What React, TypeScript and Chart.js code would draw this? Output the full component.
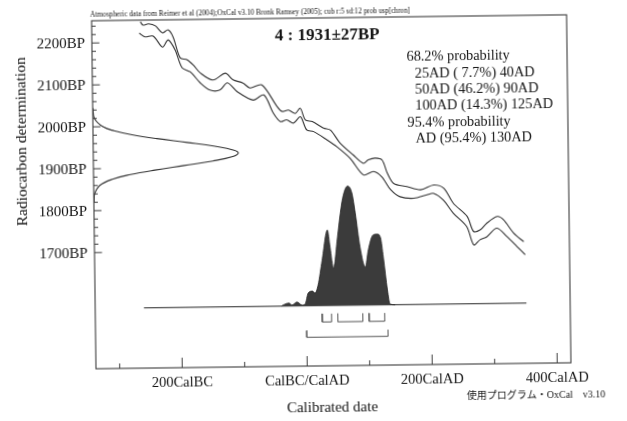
import React, { useEffect, useRef } from 'react';
import { Chart, registerables } from 'chart.js';

Chart.register(...registerables);

// ---------- texts ----------
const headerText =
  'Atmospheric data from Reimer et al (2004);OxCal v3.10 Bronk Ramsey (2005); cub r:5 sd:12 prob usp[chron]';
const titleText = '4 : 1931±27BP';
const probHeaderLines = ['68.2% probability', '95.4% probability'];
const prob68Lines = ['25AD ( 7.7%) 40AD', '50AD (46.2%) 90AD', '100AD (14.3%) 125AD'];
const prob95Lines = ['AD (95.4%) 130AD'];
const xAxisTitle = 'Calibrated date';
const yAxisTitle = 'Radiocarbon determination';
const footnoteText = '使用プログラム・OxCal　v3.10';

// ---------- ticks ----------
const xMajorTicks = [-200, 0, 200, 400];
const xMajorLabels = ['200CalBC', 'CalBC/CalAD', '200CalAD', '400CalAD'];
const xMinorTicks = [-300, -100, 100, 300];
const yMajorTicks = [2200, 2100, 2000, 1900, 1800, 1700];
const yMajorLabels = ['2200BP', '2100BP', '2000BP', '1900BP', '1800BP', '1700BP'];
const yMinorTicks = [2240, 2220, 2180, 2160, 2140, 2120, 2080, 2060, 2040, 2020, 1980, 1960, 1940, 1920,
  1880, 1860, 1840, 1820, 1780, 1760, 1740, 1720];

// ---------- calibration curve (cal year, BP) ----------
const upperYears = [-260, -256, -247, -236, -225, -216, -208, -197, -186, -176, -165, -145, -125, -113, -97,
  -86, -67, -43, -35, -25, -14, -6, 2, 13, 31, 42, 57, 78, 94, 102, 113, 124, 132, 142, 163, 185, 206, 222,
  237, 259, 269, 280, 290, 307, 317, 333, 349];
const upperBP = [2249, 2241, 2244, 2239, 2222, 2229, 2212, 2162, 2157, 2144, 2125, 2108, 2124, 2108, 2100,
  2088, 2095, 2043, 2031, 2034, 2026, 2038, 2010, 2006, 1990, 1985, 1954, 1925, 1905, 1913, 1917, 1912, 1881,
  1856, 1848, 1840, 1851, 1843, 1807, 1775, 1739, 1743, 1758, 1774, 1766, 1734, 1713];
const lowerYears = [-262, -253, -240, -225, -216, -205, -194, -181, -165, -150, -134, -122, -106, -81, -64,
  -49, -38, -28, -17, -6, 4, 15, 36, 52, 73, 94, 110, 123, 137, 152, 174, 195, 206, 221, 237, 258, 269, 279,
  290, 306, 322, 338, 351];
const lowerBP = [2222, 2213, 2215, 2188, 2205, 2181, 2138, 2128, 2101, 2084, 2084, 2101, 2079, 2059, 2071,
  2027, 2007, 2011, 2003, 2018, 1986, 1982, 1962, 1945, 1917, 1877, 1885, 1872, 1841, 1824, 1820, 1828, 1831,
  1815, 1783, 1751, 1707, 1719, 1726, 1746, 1726, 1702, 1682];

// ---------- radiocarbon determination (BP, relative density) ----------
const gaussBP = [2045, 2020, 2000, 1990, 1980, 1970, 1960, 1950, 1940, 1933, 1925, 1915, 1905, 1895, 1885,
  1875, 1860, 1840, 1820];
const gaussProb = [0.001, 0.011, 0.069, 0.145, 0.269, 0.44, 0.648, 0.84, 0.971, 1, 0.962, 0.825, 0.626,
  0.424, 0.254, 0.135, 0.042, 0.006, 0.0005];

// ---------- calibrated distribution (cal year, relative probability) ----------
const distYears = [-40, -37, -28, -23, -15, -7, -2, 3, 10, 14, 19, 26, 35, 39, 44, 51, 56, 60, 68, 75, 80,
  87, 95, 100, 108, 115, 120, 124, 130, 134, 142];
const distProb = [0, 0.01, 0.025, 0.008, 0.033, 0.007, 0.015, 0.107, 0.123, 0.106, 0.173, 0.382, 0.633,
  0.49, 0.314, 0.573, 0.775, 0.9, 1.0, 0.94, 0.773, 0.487, 0.319, 0.461, 0.587, 0.594, 0.561, 0.401, 0.124,
  0.006, 0];
const baselineYears = [-260, 352];

// ---------- ranges ----------
const range68 = [[25, 40], [50, 90], [100, 125]];
const range95 = [[0, 130]];

// styling constants (bracket levels on the distribution axis)
const B68 = [-0.068, -0.137];
const B95 = [-0.208, -0.264];

const SERIF = '"Liberation Serif", "Times New Roman", serif';

const decorPlugin = {
  id: 'decor',
  afterDraw(chart: any) {
    const { ctx, chartArea: a, scales } = chart;
    const xs = scales.x;
    const ys = scales.y;
    ctx.save();
    // frame
    ctx.strokeStyle = '#3c3c3c';
    ctx.lineWidth = 1.1;
    ctx.strokeRect(a.left, a.top, a.right - a.left, a.bottom - a.top);
    // ticks
    ctx.lineWidth = 1;
    const hl = (x1: number, y1: number, x2: number, y2: number) => {
      ctx.beginPath();
      ctx.moveTo(x1, y1);
      ctx.lineTo(x2, y2);
      ctx.stroke();
    };
    yMinorTicks.forEach((v) => {
      const py = ys.getPixelForValue(v);
      hl(a.left, py, a.left + 4, py);
    });
    yMajorTicks.forEach((v) => {
      const py = ys.getPixelForValue(v);
      hl(a.left, py, a.left + 7.5, py);
    });
    xMinorTicks.forEach((v) => {
      const px = xs.getPixelForValue(v);
      hl(px, a.bottom, px, a.bottom - 5);
    });
    xMajorTicks.forEach((v) => {
      const px = xs.getPixelForValue(v);
      hl(px, a.bottom, px, a.bottom - 10);
    });

    ctx.fillStyle = '#141414';
    // y tick labels
    ctx.font = `15px ${SERIF}`;
    ctx.textAlign = 'right';
    ctx.textBaseline = 'middle';
    yMajorTicks.forEach((v, i) => {
      ctx.fillText(yMajorLabels[i], a.left - 7, ys.getPixelForValue(v) + 1);
    });
    // x tick labels
    ctx.font = `14.5px ${SERIF}`;
    ctx.textAlign = 'center';
    xMajorTicks.forEach((v, i) => {
      ctx.fillText(xMajorLabels[i], xs.getPixelForValue(v), a.bottom + 15.5);
    });
    // axis titles
    ctx.font = `15px ${SERIF}`;
    ctx.fillText(xAxisTitle, 330, 408.5);
    ctx.save();
    ctx.translate(23, 138);
    ctx.rotate(-Math.PI / 2);
    ctx.font = `15.5px ${SERIF}`;
    ctx.fillText(yAxisTitle, 0, 0);
    ctx.restore();

    // header (condensed)
    ctx.save();
    ctx.font = `8.5px ${SERIF}`;
    ctx.textAlign = 'left';
    const w = ctx.measureText(headerText).width;
    ctx.translate(92.5, 11.5);
    ctx.scale(320 / w, 1);
    ctx.fillText(headerText, 0, 0);
    ctx.restore();

    // title
    ctx.textAlign = 'left';
    ctx.font = `bold 17px ${SERIF}`;
    ctx.fillText(titleText, 277, 35.5);

    // probability text
    ctx.font = `14.3px ${SERIF}`;
    const lh = 16.4;
    let yy = 58.5;
    ctx.fillText(probHeaderLines[0], 408.5, yy);
    prob68Lines.forEach((t) => {
      yy += lh;
      ctx.fillText(t, 416.5, yy);
    });
    yy += lh;
    ctx.fillText(probHeaderLines[1], 408.5, yy);
    prob95Lines.forEach((t) => {
      yy += lh;
      ctx.fillText(t, 416.5, yy);
    });

    // footnote
    ctx.font = `10px "Liberation Serif", "Noto Sans CJK JP", serif`;
    ctx.fillText(footnoteText, 464.5, 398);
    ctx.restore();
  },
};

const bracketSet = (ranges: number[][], lv: number[]) =>
  ranges.map(([s, e]) => ({
    data: [
      { x: s, y: lv[0] },
      { x: s, y: lv[1] },
      { x: e, y: lv[1] },
      { x: e, y: lv[0] },
    ],
    xAxisID: 'x',
    yAxisID: 'y2',
    showLine: true,
    borderColor: '#555555',
    borderWidth: 1,
    pointRadius: 0,
    tension: 0,
  }));

export default function App() {
  const ref = useRef<HTMLCanvasElement>(null);

  useEffect(() => {
    if (!ref.current) return;
    const lineBase = { showLine: true, pointRadius: 0, pointHoverRadius: 0 };
    const chart = new Chart(ref.current, {
      type: 'scatter',
      data: {
        datasets: [
          {
            ...lineBase,
            data: distYears.map((x, i) => ({ x, y: distProb[i] })),
            xAxisID: 'x',
            yAxisID: 'y2',
            fill: 'origin',
            backgroundColor: '#3b3b3b',
            borderColor: '#2c2c2c',
            borderWidth: 0.8,
            cubicInterpolationMode: 'monotone',
          },
          {
            ...lineBase,
            data: baselineYears.map((x) => ({ x, y: 0 })),
            xAxisID: 'x',
            yAxisID: 'y2',
            borderColor: '#262626',
            borderWidth: 1.1,
          },
          {
            ...lineBase,
            data: upperYears.map((x, i) => ({ x, y: upperBP[i] })),
            xAxisID: 'x',
            yAxisID: 'y',
            borderColor: '#333333',
            borderWidth: 1.1,
            tension: 0.3,
          },
          {
            ...lineBase,
            data: lowerYears.map((x, i) => ({ x, y: lowerBP[i] })),
            xAxisID: 'x',
            yAxisID: 'y',
            borderColor: '#333333',
            borderWidth: 1.1,
            tension: 0.3,
          },
          {
            ...lineBase,
            data: gaussBP.map((y, i) => ({ x: gaussProb[i], y })),
            xAxisID: 'x2',
            yAxisID: 'y',
            borderColor: '#333333',
            borderWidth: 1.1,
            tension: 0.4,
          },
          ...bracketSet(range68, B68),
          ...bracketSet(range95, B95),
        ] as any,
      },
      options: {
        animation: false,
        responsive: false,
        devicePixelRatio: 1,
        layout: { padding: { left: 94, right: 58, top: 18, bottom: 55 } },
        plugins: { legend: { display: false }, tooltip: { enabled: false } },
        events: [],
        scales: {
          x: { type: 'linear', min: -338, max: 422, display: false },
          x2: { type: 'linear', min: 0, max: 3.276, display: false },
          y: { type: 'linear', min: 1423, max: 2253, display: false },
          y2: { type: 'linear', min: -0.505, max: 2.412, display: false },
        },
      } as any,
      plugins: [decorPlugin],
    });
    return () => chart.destroy();
  }, []);

  return (
    <div
      style={{
        position: 'fixed',
        left: 0,
        top: 0,
        width: 627,
        height: 421,
        background: '#ffffff',
        overflow: 'hidden',
      }}
    >
      <canvas
        ref={ref}
        width={627}
        height={421}
        style={{
          display: 'block',
          width: 627,
          height: 421,
          transform: 'rotate(-0.72deg)',
          transformOrigin: '313.5px 210.5px',
        }}
      />
    </div>
  );
}
